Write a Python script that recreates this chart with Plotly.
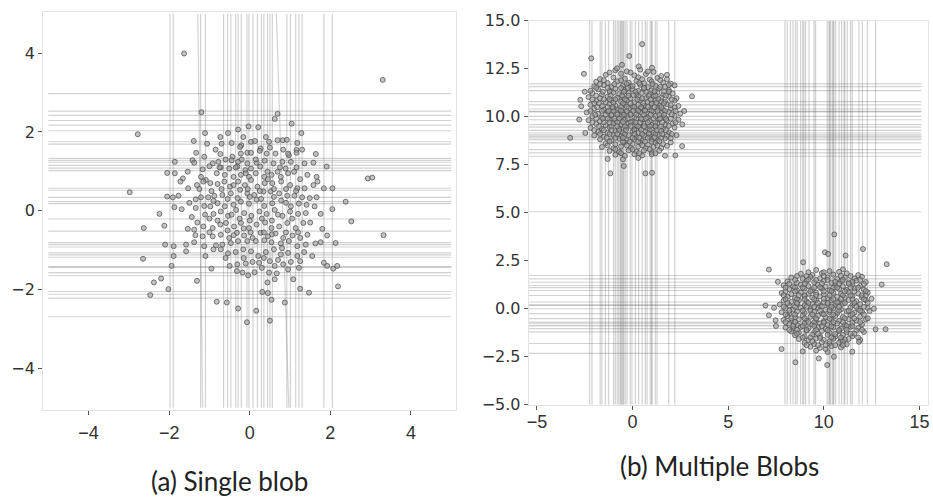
import plotly.graph_objects as go

# ---------------- data: panel (a) single blob ----------------
blob_a = [
    (-1.20, 2.50), (0.69, 2.46), (0.62, 2.33), (-0.03, 2.14), (0.21, 2.12), (-0.29, 2.06), (-1.11, 1.97),
    (-0.54, 1.97), (1.04, 2.21), (1.28, 1.97), (-1.39, 1.77), (-0.73, 1.87), (-0.16, 1.87), (0.40, 1.87),
    (0.69, 1.79), (0.82, 1.79), (0.92, 1.80), (-1.06, 1.70), (-0.70, 1.70), (-0.45, 1.72), (-0.21, 1.66),
    (0.03, 1.75), (0.13, 1.77), (0.48, 1.75), (1.18, 1.72), (1.16, 1.54), (0.83, 1.55), (0.27, 1.58), (-0.24, 1.62),
    (-1.33, 1.47), (-1.13, 1.37), (-0.73, 1.44), (-0.43, 1.37), (-0.22, 1.45), (-0.06, 1.47), (0.03, 1.47),
    (0.25, 1.52), (0.42, 1.45), (0.64, 1.45), (0.97, 1.41), (1.16, 1.47), (1.64, 1.44), (-1.86, 1.24),
    (-1.42, 1.28), (-1.38, 1.22), (-0.92, 1.20), (-0.78, 1.24), (-0.45, 1.28), (-0.29, 1.24), (-0.06, 1.20),
    (0.17, 1.22), (0.37, 1.27), (0.59, 1.20), (0.81, 1.24), (1.02, 1.24), (1.36, 1.20), (1.58, 1.22),
    (1.91, 1.12), (-2.05, 0.96), (-1.86, 0.95), (-1.54, 0.99), (-1.17, 1.05), (-1.00, 1.13), (-0.72, 1.10),
    (-0.51, 1.07), (-0.31, 1.12), (-0.11, 1.03), (0.03, 1.07), (0.26, 1.12), (0.44, 0.99), (0.69, 0.99),
    (0.89, 1.07), (1.16, 1.10), (1.43, 0.91), (1.66, 0.86), (-1.66, 0.82), (-1.72, 0.74), (-1.21, 0.86),
    (-1.09, 0.78), (-0.82, 0.95), (-0.62, 0.91), (-0.40, 0.86), (-0.22, 0.91), (-0.02, 0.86), (0.15, 0.95),
    (0.36, 0.86), (0.54, 0.91), (0.77, 0.86), (0.95, 0.95), (1.10, 0.99),
    (-1.53, 0.57), (-1.31, 0.65), (-1.15, 0.74), (-0.98, 0.70), (-0.80, 0.68), (-0.63, 0.74), (-0.49, 0.61),
    (-0.29, 0.74), (-0.12, 0.65), (0.03, 0.78), (0.19, 0.61), (0.37, 0.70), (0.56, 0.70), (0.78, 0.74),
    (1.00, 0.65), (1.18, 0.57), (1.36, 0.57), (1.58, 0.65), (1.68, 0.74), (1.84, 0.57), (2.05, 0.57),
    (2.93, 0.82), (-2.05, 0.36), (-1.91, 0.34), (-1.77, 0.38), (-1.34, 0.29), (-1.21, 0.34), (-1.03, 0.34),
    (-0.88, 0.38), (-0.68, 0.40), (-0.47, 0.44), (-0.24, 0.53), (-0.06, 0.44), (0.11, 0.40), (0.34, 0.49),
    (0.52, 0.49), (0.73, 0.44), (0.93, 0.38), (1.11, 0.38), (1.30, 0.34), (1.49, 0.32), (1.66, 0.34),
    (2.38, 0.23), (-1.87, 0.09), (-1.69, 0.04), (-1.34, 0.07), (-1.13, 0.12), (-0.98, 0.11), (-0.80, 0.19),
    (-0.62, 0.11), (-0.40, 0.15), (-0.22, 0.23), (-0.02, 0.18), (0.17, 0.28), (0.36, 0.12), (0.56, 0.19),
    (0.78, 0.26), (1.02, 0.11), (1.22, 0.18), (1.41, 0.15), (1.61, 0.11), (2.05, 0.04), (-2.24, -0.08),
    (-1.44, -0.16), (-1.11, -0.10), (-0.90, -0.08), (-0.72, -0.02), (-0.54, -0.13), (-0.34, 0.02),
    (-0.14, -0.06), (0.04, -0.13), (0.24, -0.02), (0.42, -0.08), (0.62, 0.02), (0.81, -0.13), (1.00, -0.02),
    (1.20, -0.08), (1.39, -0.06), (1.76, -0.08), (2.52, -0.27), (-2.12, -0.38),
    (-1.54, -0.46), (-1.38, -0.48), (-1.15, -0.40), (-0.92, -0.44), (-0.73, -0.35), (-0.59, -0.31),
    (-0.39, -0.40), (-0.22, -0.31), (-0.02, -0.44), (0.17, -0.35), (0.38, -0.30), (0.54, -0.44), (0.73, -0.40),
    (0.93, -0.31), (1.14, -0.44), (1.33, -0.31), (1.80, -0.46), (-1.17, -0.65), (-0.92, -0.65), (-0.72, -0.61),
    (-0.51, -0.69), (-0.32, -0.56), (-0.14, -0.63), (0.07, -0.69), (0.27, -0.56), (0.45, -0.65), (0.64, -0.58),
    (0.83, -0.69), (1.06, -0.63), (1.25, -0.69), (1.43, -0.61), (1.92, -0.63), (-2.10, -0.86), (-1.89, -0.90),
    (-1.58, -0.86), (-1.38, -0.80), (-1.13, -0.90), (-0.84, -0.88), (-0.68, -0.86), (-0.47, -0.82),
    (-0.29, -0.77), (-0.06, -0.77), (0.15, -0.77), (0.36, -0.75), (0.54, -0.80), (0.77, -0.83), (0.97, -0.77),
    (1.18, -0.90), (1.39, -0.86), (1.63, -0.83), (1.76, -0.80), (2.13, -0.82),
    (-1.89, -1.15), (-1.58, -1.03), (-0.90, -0.98), (-0.72, -0.98), (-0.54, -1.08), (-0.35, -1.05),
    (-0.16, -0.98), (0.03, -1.03), (0.21, -1.15), (0.40, -1.05), (0.60, -0.98), (0.77, -1.11), (0.95, -1.07),
    (1.18, -1.15), (1.55, -1.15), (1.84, -1.32), (1.92, -1.40), (2.07, -1.47), (2.17, -1.40), (-1.94, -1.40),
    (-0.95, -1.47), (-0.31, -1.36), (-0.10, -1.34), (0.07, -1.30), (0.23, -1.32), (0.50, -1.28), (0.62, -1.40),
    (0.83, -1.36), (1.02, -1.30), (1.25, -1.28), (-0.32, -1.53), (-0.18, -1.57), (-0.04, -1.64), (0.12, -1.56),
    (0.48, -1.57), (0.67, -1.59), (0.95, -1.49), (1.22, -1.45),
    (-2.38, -1.82), (-2.20, -1.72), (-1.31, -1.78), (0.44, -1.82), (0.62, -1.74), (1.08, -1.74), (2.19, -1.92),
    (-2.02, -1.99), (0.31, -2.06), (0.45, -2.09), (1.25, -1.98), (1.47, -2.08), (-0.82, -2.31), (-0.57, -2.33),
    (0.54, -2.26), (0.87, -2.33), (-0.29, -2.48), (0.16, -2.54), (-0.07, -2.83), (0.50, -2.79),
    (-1.63, 3.99), (3.30, 3.32), (-2.78, 1.94), (-2.98, 0.47), (3.04, 0.84), (3.32, -0.62), (-2.63, -0.44),
    (-2.65, -1.22), (-2.47, -2.14),
    (-0.85, 1.55), (-0.6, 1.3), (-0.35, 1.1), (-0.1, 0.95), (0.15, 1.3), (0.5, 1.6), (0.75, 1.1), (1.3, 1.55),
    (-1.25, 0.55), (-0.95, 0.5), (-0.7, 0.55), (-0.4, 0.65), (-0.05, 0.55), (0.25, 0.5), (0.45, 0.8), (0.9, 0.55),
    (1.25, 0.8), (-1.5, 0.2), (-0.9, 0.25), (-0.55, 0.3), (-0.3, 0.32), (0.0, 0.35), (0.28, 0.3), (0.6, 0.35),
    (0.9, 0.2), (1.15, 0.5), (-1.3, -0.3), (-1.0, -0.2), (-0.8, -0.25), (-0.45, -0.1), (-0.25, -0.2), (0.0, -0.25),
    (0.3, -0.2), (0.55, -0.25), (0.7, -0.1), (1.05, -0.2), (1.5, -0.3), (-1.35, -0.62), (-1.0, -0.55),
    (-0.55, -0.5), (-0.4, -0.62), (0.02, -0.55), (0.35, -0.55), (0.55, -0.6), (0.9, -0.55), (1.2, -0.55),
    (-1.1, -1.15), (-0.6, -1.2), (-0.15, -1.2), (0.35, -1.2), (0.7, -1.25), (1.35, -1.05), (-0.5, -1.4),
    (0.3, -1.45), (-0.75, 1.1), (0.95, 1.45), (-0.2, 1.3), (0.6, 0.55), (-0.15, -0.45), (0.8, -0.95),
]
splits_a_vertical = [-1.98, -1.90, -1.22, -1.10, -0.65, -0.55, -0.47, -0.35, -0.29, -0.21, -0.07, -0.02,
                     0.08, 0.19, 0.29, 0.35, 0.44, 0.50, 0.56, 0.92, 1.01, 1.14, 1.22, 1.30, 1.84, 2.05]
# two slightly slanted splits: (x at top, x at bottom)
splits_a_slanted = [(-1.29, -1.17), (0.66, 0.97)]
splits_a_horizontal = [2.97, 2.53, 2.42, 2.29, 2.17, 2.03, 1.75, 1.69, 1.33, 1.28, 1.23, 1.15, 1.08, 1.02,
                       0.57, 0.52, 0.34, 0.23, 0.18, -0.21, -0.52, -0.81, -0.86, -0.92, -1.07, -1.12, -1.18,
                       -1.42, -1.44, -1.57, -1.65, -2.05, -2.12, -2.22, -2.69]

# ---------------- data: panel (b) multiple blobs ----------------
blob_b1 = [
    (-0.9, 12.42), (-0.3, 12.36), (0.4, 12.45), (1.1, 12.33),
    (-1.4, 12.18), (-0.6, 12.24), (0.1, 12.15), (0.7, 12.22), (1.5, 12.12),
    (-1.7, 11.96), (-1.0, 12.04), (-0.4, 11.98), (0.3, 12.05), (0.9, 11.93), (1.3, 12.02), (1.8, 11.95),
    (-1.9, 11.82), (-1.3, 11.75), (-0.8, 11.84), (-0.2, 11.77), (0.2, 11.86), (0.6, 11.74), (1.0, 11.83), (1.6, 11.78), (2.0, 11.72),
    (-2.0, 11.58), (-1.5, 11.64), (-1.1, 11.55), (-0.5, 11.62), (-0.1, 11.57), (0.4, 11.66), (0.8, 11.54), (1.2, 11.61), (1.7, 11.56), (2.2, 11.63),
    (-1.8, 11.42), (-1.2, 11.36), (-0.9, 11.45), (-0.4, 11.38), (0.0, 11.43), (0.3, 11.35), (0.6, 11.44), (1.0, 11.37), (1.4, 11.46), (1.9, 11.39),
    (-2.1, 11.22), (-1.6, 11.16), (-1.0, 11.25), (-0.7, 11.18), (-0.2, 11.23), (0.2, 11.15), (0.5, 11.24), (0.9, 11.17), (1.3, 11.26), (1.6, 11.14), (2.1, 11.21),
    (-2.3, 11.02), (-1.7, 10.96), (-1.3, 11.05), (-0.8, 10.98), (-0.5, 11.04), (-0.1, 10.95), (0.3, 11.03), (0.7, 10.97), (1.1, 11.06), (1.5, 10.99), (1.9, 11.04), (2.3, 10.96),
    (-1.9, 10.82), (-1.4, 10.76), (-1.1, 10.85), (-0.6, 10.78), (-0.3, 10.84), (0.1, 10.75), (0.4, 10.83), (0.8, 10.77), (1.2, 10.86), (1.7, 10.79), (2.2, 10.84),
    (-2.2, 10.62), (-1.6, 10.56), (-1.2, 10.65), (-0.9, 10.58), (-0.4, 10.64), (0.0, 10.55), (0.3, 10.63), (0.6, 10.57), (1.0, 10.66), (1.4, 10.59), (1.8, 10.64), (2.4, 10.56),
    (-2.0, 10.42), (-1.5, 10.36), (-1.0, 10.45), (-0.7, 10.38), (-0.2, 10.44), (0.2, 10.35), (0.5, 10.43), (0.9, 10.37), (1.3, 10.46), (1.6, 10.39), (2.0, 10.44),
    (-2.4, 10.22), (-1.8, 10.16), (-1.3, 10.25), (-0.8, 10.18), (-0.5, 10.24), (-0.1, 10.15), (0.4, 10.23), (0.7, 10.17), (1.1, 10.26), (1.5, 10.19), (1.9, 10.24), (2.5, 10.16),
    (-2.1, 10.02), (-1.6, 9.96), (-1.1, 10.05), (-0.6, 9.98), (-0.3, 10.04), (0.1, 9.95), (0.3, 10.06), (0.8, 9.97), (1.2, 10.03), (1.7, 9.96), (2.2, 10.05),
    (-2.3, 9.82), (-1.7, 9.76), (-1.2, 9.85), (-0.9, 9.78), (-0.4, 9.84), (0.0, 9.75), (0.5, 9.83), (0.9, 9.77), (1.4, 9.86), (1.8, 9.79), (2.4, 9.84),
    (-1.9, 9.62), (-1.4, 9.56), (-1.0, 9.65), (-0.6, 9.58), (-0.2, 9.64), (0.2, 9.55), (0.6, 9.63), (1.0, 9.57), (1.3, 9.66), (1.7, 9.59), (2.1, 9.64),
    (-2.2, 9.42), (-1.6, 9.36), (-1.2, 9.45), (-0.7, 9.38), (-0.3, 9.44), (0.1, 9.35), (0.4, 9.43), (0.8, 9.37), (1.2, 9.46), (1.6, 9.39), (2.2, 9.44),
    (-1.8, 9.22), (-1.3, 9.16), (-0.9, 9.25), (-0.5, 9.18), (0.0, 9.24), (0.3, 9.15), (0.7, 9.23), (1.1, 9.17), (1.5, 9.26), (1.9, 9.19),
    (-2.0, 9.02), (-1.5, 8.96), (-1.0, 9.05), (-0.6, 8.98), (-0.2, 9.04), (0.2, 8.95), (0.6, 9.03), (0.9, 8.97), (1.4, 9.06), (1.8, 8.99), (2.3, 9.04),
    (-1.7, 8.82), (-1.1, 8.76), (-0.7, 8.85), (-0.3, 8.78), (0.1, 8.84), (0.5, 8.75), (1.0, 8.83), (1.3, 8.77), (1.7, 8.86),
    (-1.4, 8.62), (-0.9, 8.56), (-0.4, 8.65), (0.0, 8.58), (0.4, 8.64), (0.8, 8.55), (1.2, 8.63), (1.6, 8.57), (2.0, 8.66),
    (-1.6, 8.42), (-1.0, 8.36), (-0.6, 8.45), (-0.1, 8.38), (0.3, 8.44), (0.7, 8.35), (1.1, 8.43), (1.5, 8.37),
    (-1.2, 8.22), (-0.7, 8.16), (-0.2, 8.25), (0.2, 8.18), (0.6, 8.24), (1.0, 8.15), (1.4, 8.23),
    (-0.9, 8.02), (-0.4, 7.96), (0.1, 8.05), (0.5, 7.98), (1.0, 8.04), (1.7, 7.97),
    (-1.3, 7.8), (-0.5, 7.78), (0.3, 7.85),
    (-1.2, 11.3), (-0.6, 11.5), (0.0, 11.6), (0.7, 11.3), (1.2, 11.1), (-1.5, 10.9), (-0.9, 10.9), (-0.2, 11.1),
    (0.5, 10.95), (1.0, 10.7), (1.5, 10.8), (-1.3, 10.5), (-0.6, 10.5), (0.1, 10.5), (0.8, 10.5), (1.5, 10.5),
    (-1.6, 10.3), (-1.0, 10.3), (-0.3, 10.3), (0.3, 10.3), (1.0, 10.3), (1.7, 10.3), (-1.4, 10.1), (-0.8, 10.1),
    (-0.1, 10.1), (0.6, 10.1), (1.4, 10.1), (-1.9, 9.9), (-1.3, 9.9), (-0.7, 9.9), (0.2, 9.9), (0.7, 9.9),
    (1.1, 9.9), (2.0, 9.9), (-1.5, 9.7), (-0.8, 9.7), (-0.1, 9.7), (0.4, 9.7), (1.2, 9.7), (-1.1, 9.5), (-0.4, 9.5),
    (0.3, 9.5), (0.9, 9.5), (1.5, 9.5), (-1.5, 9.3), (-0.7, 9.3), (0.1, 9.3), (0.9, 9.3), (-1.2, 9.1), (-0.4, 9.1),
    (0.5, 9.1), (1.2, 9.1), (-0.9, 8.9), (0.0, 8.9), (0.8, 8.9), (1.5, 8.9), (-0.5, 8.7), (0.3, 8.7), (1.0, 8.7),
    (-2.0, 10.7), (2.0, 10.6), (-1.9, 11.5), (1.9, 11.3),
    (-1.2, 12.3), (-0.1, 12.3), (0.8, 12.35), (-1.5, 11.9), (-0.6, 11.9), (0.5, 11.95), (1.45, 11.9),
    (-1.7, 11.7), (-0.95, 11.7), (-0.3, 11.7), (0.35, 11.75), (1.05, 11.7), (1.9, 11.65),
    (-1.3, 11.5), (-0.25, 11.5), (0.6, 11.5), (1.45, 11.55),
    (-2.2, 11.35), (-1.55, 11.3), (-0.45, 11.3), (0.15, 11.3), (1.15, 11.32), (1.65, 11.3),
    (-1.9, 11.1), (-1.15, 11.1), (-0.55, 11.1), (0.05, 11.12), (0.85, 11.08), (1.75, 11.1),
    (-2.1, 10.9), (-1.2, 10.92), (-0.4, 10.9), (0.25, 10.9), (0.95, 10.9), (1.35, 10.92), (2.05, 10.9),
    (-1.75, 10.7), (-1.0, 10.72), (-0.5, 10.7), (-0.1, 10.7), (0.55, 10.7), (1.25, 10.72), (1.65, 10.7),
    (-1.85, 10.5), (-1.05, 10.5), (-0.3, 10.52), (0.45, 10.5), (1.15, 10.5), (2.2, 10.48),
    (-2.2, 10.3), (-1.25, 10.3), (-0.6, 10.32), (0.05, 10.3), (0.65, 10.32), (1.3, 10.3), (2.25, 10.3),
    (-1.95, 10.1), (-1.1, 10.1), (-0.45, 10.1), (0.2, 10.12), (0.95, 10.1), (1.65, 10.1), (2.05, 10.12),
    (-1.55, 9.9), (-0.95, 9.9), (-0.25, 9.92), (0.45, 9.9), (1.45, 9.9), (1.75, 9.88),
    (-2.1, 9.7), (-1.2, 9.7), (-0.5, 9.72), (0.15, 9.7), (0.8, 9.7), (1.55, 9.7), (2.25, 9.7),
    (-1.75, 9.5), (-0.8, 9.5), (-0.1, 9.52), (0.6, 9.5), (1.2, 9.5), (1.9, 9.52),
    (-2.0, 9.3), (-1.1, 9.3), (-0.35, 9.3), (0.45, 9.32), (1.25, 9.3), (1.75, 9.3),
    (-1.7, 9.1), (-0.8, 9.1), (0.1, 9.1), (0.85, 9.12), (1.55, 9.1), (2.05, 9.1),
    (-1.35, 8.9), (-0.5, 8.9), (0.35, 8.9), (1.15, 8.92), (2.0, 8.88),
    (-1.2, 8.7), (-0.15, 8.7), (0.65, 8.7), (1.4, 8.72),
    (-1.3, 8.5), (-0.3, 8.5), (0.5, 8.52), (1.3, 8.5), (1.8, 8.48),
    (-0.9, 8.3), (0.0, 8.3), (0.9, 8.3), (-0.6, 8.1), (0.35, 8.1), (1.2, 8.1),
    (0.50, 13.78), (-2.16, 13.04), (-2.54, 12.23), (-0.17, 13.16), (3.11, 11.06), (-3.26, 8.90), (2.59, 8.47),
    (-1.16, 7.05), (-0.46, 7.43), (0.67, 7.05), (1.02, 7.08), (-2.73, 10.88), (-2.68, 10.54), (-2.79, 9.85),
    (-2.47, 9.15), (2.24, 7.98), (1.8, 12.18), (-0.81, 12.52), (-0.55, 12.7), (0.32, 12.62), (1.02, 12.55),
    (2.6, 9.6), (2.7, 10.3), (-2.5, 11.3),
]
blob_b2 = [
    (9.6, 2.02), (10.3, 1.96), (11.0, 2.05),
    (8.8, 1.82), (9.4, 1.76), (9.9, 1.85), (10.5, 1.78), (11.2, 1.84), (11.8, 1.75),
    (8.3, 1.62), (8.9, 1.56), (9.3, 1.65), (9.8, 1.58), (10.2, 1.64), (10.7, 1.55), (11.1, 1.63), (11.6, 1.57), (12.0, 1.66),
    (8.1, 1.42), (8.6, 1.36), (9.1, 1.45), (9.5, 1.38), (10.0, 1.44), (10.4, 1.35), (10.9, 1.43), (11.3, 1.37), (11.7, 1.46), (12.2, 1.39),
    (7.9, 1.22), (8.4, 1.16), (8.8, 1.25), (9.2, 1.18), (9.7, 1.24), (10.1, 1.15), (10.6, 1.23), (11.0, 1.17), (11.5, 1.26), (11.9, 1.19),
    (8.2, 1.02), (8.6, 0.96), (9.0, 1.05), (9.4, 0.98), (9.9, 1.04), (10.3, 0.95), (10.8, 1.03), (11.2, 0.97), (11.6, 1.06), (12.1, 0.99),
    (7.8, 0.82), (8.3, 0.76), (8.8, 0.85), (9.2, 0.78), (9.6, 0.84), (10.0, 0.75), (10.5, 0.83), (10.9, 0.77), (11.3, 0.86), (11.8, 0.79), (12.3, 0.84),
    (8.1, 0.62), (8.5, 0.56), (9.0, 0.65), (9.4, 0.58), (9.8, 0.64), (10.2, 0.55), (10.7, 0.63), (11.1, 0.57), (11.5, 0.66), (12.0, 0.59),
    (7.9, 0.42), (8.3, 0.36), (8.7, 0.45), (9.1, 0.38), (9.6, 0.44), (10.0, 0.35), (10.4, 0.43), (10.8, 0.37), (11.3, 0.46), (11.7, 0.39), (12.2, 0.44),
    (7.7, 0.22), (8.2, 0.16), (8.6, 0.25), (9.0, 0.18), (9.4, 0.24), (9.8, 0.15), (10.2, 0.23), (10.6, 0.17), (11.0, 0.26), (11.5, 0.19), (11.9, 0.24),
    (8.0, 0.02), (8.4, -0.04), (8.8, 0.05), (9.3, -0.02), (9.7, 0.04), (10.1, -0.05), (10.5, 0.03), (10.9, -0.03), (11.4, 0.06), (11.8, -0.01), (12.3, 0.04),
    (7.8, -0.18), (8.2, -0.24), (8.6, -0.15), (9.0, -0.22), (9.5, -0.16), (9.9, -0.25), (10.3, -0.17), (10.7, -0.23), (11.2, -0.14), (11.6, -0.21), (12.0, -0.16),
    (8.1, -0.38), (8.5, -0.44), (8.9, -0.35), (9.3, -0.42), (9.7, -0.36), (10.1, -0.45), (10.6, -0.37), (11.0, -0.43), (11.4, -0.34), (11.9, -0.41),
    (7.9, -0.58), (8.3, -0.64), (8.7, -0.55), (9.1, -0.62), (9.6, -0.56), (10.0, -0.65), (10.4, -0.57), (10.8, -0.63), (11.3, -0.54), (11.7, -0.61), (12.2, -0.56),
    (8.2, -0.78), (8.6, -0.84), (9.0, -0.75), (9.4, -0.82), (9.8, -0.76), (10.2, -0.85), (10.7, -0.77), (11.1, -0.83), (11.5, -0.74), (12.0, -0.81),
    (8.0, -0.98), (8.4, -1.04), (8.8, -0.95), (9.2, -1.02), (9.7, -0.96), (10.1, -1.05), (10.5, -0.97), (10.9, -1.03), (11.4, -0.94), (11.8, -1.01),
    (8.3, -1.18), (8.7, -1.24), (9.1, -1.15), (9.5, -1.22), (9.9, -1.16), (10.3, -1.25), (10.8, -1.17), (11.2, -1.23), (11.7, -1.14), (12.1, -1.21),
    (8.5, -1.38), (9.0, -1.44), (9.4, -1.35), (9.8, -1.42), (10.2, -1.36), (10.6, -1.45), (11.0, -1.37), (11.5, -1.43),
    (8.7, -1.58), (9.2, -1.64), (9.6, -1.55), (10.0, -1.62), (10.5, -1.56), (10.9, -1.65), (11.3, -1.57), (11.9, -1.63),
    (9.0, -1.78), (9.5, -1.84), (9.9, -1.75), (10.3, -1.82), (10.8, -1.76), (11.2, -1.85),
    (9.3, -1.98), (9.8, -2.04), (10.4, -1.95), (10.9, -2.02),
    (8.9, -2.22), (9.6, -2.18), (10.2, -2.25),
    (8.6, 1.7), (9.6, 1.5), (10.6, 1.4), (11.5, 1.4), (8.5, 1.1), (9.5, 1.1), (10.5, 1.1), (11.4, 1.1), (8.0, 0.9),
    (9.0, 0.7), (10.0, 0.9), (11.0, 0.7), (12.0, 0.7), (8.6, 0.5), (9.5, 0.5), (10.5, 0.5), (11.5, 0.5), (8.1, 0.3),
    (9.2, 0.3), (10.2, 0.3), (11.1, 0.3), (12.1, 0.1), (8.5, 0.1), (9.5, 0.1), (10.4, 0.1), (11.3, -0.1), (8.9, -0.1),
    (9.8, -0.1), (10.8, -0.1), (8.0, -0.3), (9.0, -0.5), (10.0, -0.3), (11.1, -0.5), (12.1, -0.3), (8.5, -0.7),
    (9.5, -0.7), (10.5, -0.7), (11.5, -0.9), (8.9, -0.9), (9.9, -0.9), (10.8, -1.1), (8.6, -1.1), (9.6, -1.1),
    (11.6, -1.3), (9.3, -1.5), (10.4, -1.5), (11.1, -1.6), (9.7, -1.9), (10.6, -1.9), (10.1, -2.1),
    (9.2, 1.9), (10.0, 1.9), (10.8, 1.92), (9.1, 1.7), (10.0, 1.7), (10.9, 1.72), (11.4, 1.7),
    (8.5, 1.5), (9.2, 1.52), (10.2, 1.5), (11.0, 1.5), (11.9, 1.5),
    (8.2, 1.3), (9.0, 1.3), (9.9, 1.32), (10.8, 1.3), (11.3, 1.3), (12.1, 1.28),
    (8.0, 1.1), (8.9, 1.1), (9.8, 1.12), (10.7, 1.1), (11.8, 1.1),
    (8.5, 0.9), (9.3, 0.9), (10.4, 0.92), (11.1, 0.9), (11.6, 0.9), (12.2, 0.92),
    (7.9, 0.7), (8.7, 0.7), (9.6, 0.72), (10.3, 0.7), (11.4, 0.7), (12.2, 0.68),
    (8.0, 0.5), (9.0, 0.5), (10.0, 0.52), (10.9, 0.5), (12.1, 0.5),
    (8.6, 0.3), (9.7, 0.3), (10.7, 0.32), (11.6, 0.3), (12.3, 0.3),
    (7.9, 0.1), (9.1, 0.1), (9.9, 0.12), (10.8, 0.1), (11.7, 0.1),
    (8.2, -0.1), (9.3, -0.1), (10.3, -0.08), (11.9, -0.1), (12.4, -0.12),
    (8.5, -0.3), (9.4, -0.3), (10.5, -0.3), (11.5, -0.28),
    (8.3, -0.5), (9.6, -0.5), (10.3, -0.52), (11.6, -0.5), (12.3, -0.5),
    (8.0, -0.7), (9.2, -0.7), (10.0, -0.72), (11.0, -0.7), (11.9, -0.7),
    (8.4, -0.9), (9.5, -0.9), (10.4, -0.92), (11.2, -0.9),
    (8.2, -1.1), (9.1, -1.1), (10.2, -1.12), (11.2, -1.1), (12.0, -1.1),
    (8.6, -1.3), (9.7, -1.3), (10.6, -1.32), (11.4, -1.3),
    (8.9, -1.5), (9.8, -1.52), (10.9, -1.5), (11.8, -1.5),
    (9.4, -1.7), (10.3, -1.7), (11.0, -1.72), (9.1, -1.9), (10.1, -1.9), (11.0, -1.9),
    (7.13, 2.04), (12.05, 3.11), (13.29, 2.32), (13.03, 1.26), (12.71, -1.07), (13.23, -1.07), (7.79, -2.10),
    (8.52, -2.79), (10.18, -2.93), (9.74, -2.59), (10.53, -2.50), (6.95, 0.17), (7.13, -0.34), (7.48, -0.60),
    (10.06, 2.94), (10.23, 2.85), (8.92, 2.42), (11.14, 2.77), (11.49, -2.24), (11.84, -1.72), (12.5, 0.52),
    (12.62, 0.0), (10.55, 3.87), (7.4, 0.05), (7.6, 1.4), (7.5, -0.9),
]
splits_b_vertical = [-2.24, -2.12, -1.69, -1.60, -1.42, -1.25, -0.99, -0.90, -0.80, -0.72, -0.64, -0.60, -0.55,
                     -0.50, -0.46, -0.38, -0.29, -0.12, -0.03, 0.15, 0.32, 0.50, 0.67, 0.76, 0.93, 1.00, 1.02,
                     1.19, 1.28, 1.89, 2.21,
                     7.97, 8.09, 8.26, 8.39, 8.52, 8.61, 8.79, 8.90, 8.96, 9.05, 9.23, 9.49, 9.57, 10.18, 10.27,
                     10.30, 10.36, 10.45, 10.50, 10.53, 10.62, 10.80, 10.93, 11.06, 11.10, 11.23, 11.40, 11.49,
                     11.84, 12.02, 12.28, 12.71]
splits_b_horizontal = [11.71, 11.57, 11.36, 10.79, 10.62, 10.40, 10.28, 10.25, 10.02, 9.84, 9.59, 9.46, 9.29,
                       9.15, 9.05, 8.98, 8.90, 8.81, 8.64, 8.29, 8.12, 7.94, 5.05,
                       1.73, 1.55, 1.38, 1.21, 1.10, 0.95, 0.69, 0.35, 0.20, 0.17, 0.0, -0.26, -0.52, -0.69,
                       -0.75, -0.86, -0.90, -1.04, -1.21, -1.81, -2.33]

captions = ["(a) Single blob", "(b) Multiple Blobs"]

# ---------------- helpers ----------------
LINE_COLOR = "rgba(105,105,105,0.30)"
MARKER = dict(size=5, color="rgba(155,155,155,0.6)", line=dict(width=1, color="rgba(80,80,80,0.75)"))


def vlines(xs, y0, y1):
    X, Y = [], []
    for x in xs:
        X += [x, x, None]
        Y += [y0, y1, None]
    return X, Y


def hlines(ys, x0, x1):
    X, Y = [], []
    for y in ys:
        X += [x0, x1, None]
        Y += [y, y, None]
    return X, Y


fig = go.Figure()

# panel (a)
vx, vy = vlines(splits_a_vertical, -5, 5)
for top, bot in splits_a_slanted:
    vx += [top, bot, None]
    vy += [5, -5, None]
hx, hy = hlines(splits_a_horizontal, -5, 5)
fig.add_trace(go.Scatter(x=vx + hx, y=vy + hy, mode="lines", line=dict(color=LINE_COLOR, width=1.2),
                         hoverinfo="skip", xaxis="x", yaxis="y"))
fig.add_trace(go.Scatter(x=[p[0] for p in blob_a], y=[p[1] for p in blob_a], mode="markers",
                         marker=MARKER, xaxis="x", yaxis="y"))

# panel (b)
vx, vy = vlines(splits_b_vertical, -5, 15)
hx, hy = hlines(splits_b_horizontal, -5.43, 15.1)
fig.add_trace(go.Scatter(x=vx + hx, y=vy + hy, mode="lines", line=dict(color=LINE_COLOR, width=1.2),
                         hoverinfo="skip", xaxis="x2", yaxis="y2"))
pts_b = blob_b1 + blob_b2
fig.add_trace(go.Scatter(x=[p[0] for p in pts_b], y=[p[1] for p in pts_b], mode="markers",
                         marker=MARKER, xaxis="x2", yaxis="y2"))

W, H = 933, 502
# the captured picture maps page pixels (px, py) to picture pixels (2.05 + 0.9935 px, 8.26 + 0.967 py);
# these helpers place layout items at the wanted picture pixel.
def fx(sx):
    return (sx - 2.05) / 0.9935 / W


def fy(sy):
    return 1 - (sy - 8.26) / 0.967 / H


frame = dict(showline=True, mirror=True, linecolor="#e3e3e3", linewidth=1, showgrid=False, zeroline=False,
             ticks="outside", ticklen=4, tickcolor="#555")
ytickfont = dict(family="DejaVu Sans", size=16, color="#333")
xtickfont = dict(family="Liberation Sans Narrow, Liberation Sans", size=18, color="#333")

fig.update_layout(
    width=W, height=H, margin=dict(l=0, r=0, t=0, b=0), autosize=False,
    paper_bgcolor="white", plot_bgcolor="white", showlegend=False,
    xaxis=dict(domain=[fx(43), fx(455)], range=[-5.13, 5.13], tickvals=[-4, -2, 0, 2, 4],
               ticktext=["−4", "−2", "0", "2", "4"], tickfont=xtickfont, ticklabelstandoff=3, **frame),
    yaxis=dict(domain=[fy(411), fy(11)], range=[-5.05, 5.05], tickvals=[-4, -2, 0, 2, 4],
               ticktext=["−4", "−2", "0", "2", "4"], tickfont=ytickfont, **frame),
    xaxis2=dict(domain=[fx(527), fx(925)], range=[-5.43, 15.45], tickvals=[-5, 0, 5, 10, 15],
                ticktext=["−5", "0", "5", "10", "15"], tickfont=xtickfont, ticklabelstandoff=-3,
                anchor="y2", **frame),
    yaxis2=dict(domain=[fy(406), fy(20)], range=[-5, 15],
                tickvals=[-5, -2.5, 0, 2.5, 5, 7.5, 10, 12.5, 15],
                ticktext=["−5.0", "−2.5", "0.0", "2.5", "5.0", "7.5", "10.0", "12.5", "15.0"],
                tickfont=ytickfont, anchor="x2", **frame),
    annotations=[
        dict(text=captions[0], x=fx(229), y=fy(483), xref="paper", yref="paper", showarrow=False,
             font=dict(family="Lato", size=26, color="#222"), xanchor="center", yanchor="middle"),
        dict(text=captions[1], x=fx(717), y=fy(468), xref="paper", yref="paper", showarrow=False,
             font=dict(family="Lato", size=26, color="#222"), xanchor="center", yanchor="middle"),
    ],
)

fig.write_html(
    "out.html",
    config={"displayModeBar": False, "responsive": False},
    post_script="document.body.style.margin='0px';document.body.style.overflow='hidden';",
)
